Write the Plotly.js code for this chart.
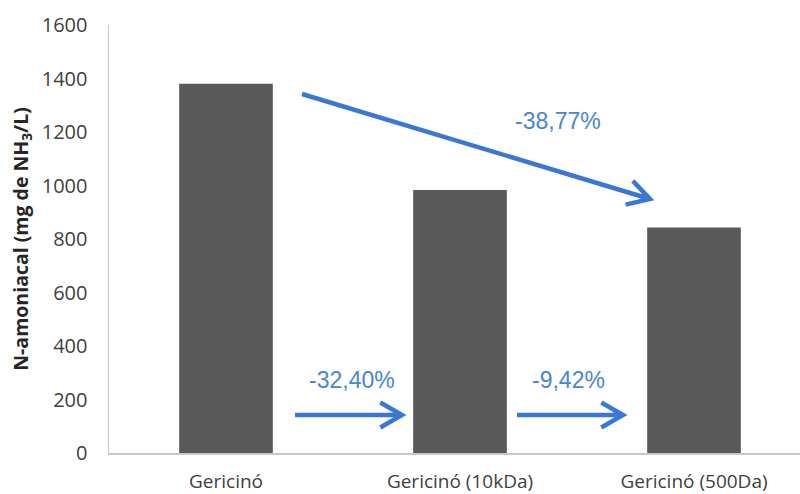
<!DOCTYPE html>
<html>
<head>
<meta charset="utf-8">
<script src="https://cdn.plot.ly/plotly-3.0.1.min.js"></script>
<style>
  html, body { margin: 0; padding: 0; background: #ffffff; }
  #chart { width: 800px; height: 494px; }
</style>
</head>
<body>
<div id="chart"></div>
<script>
// Ammoniacal nitrogen per sample
const categories = ['Gericinó', 'Gericinó (10kDa)', 'Gericinó (500Da)'];
const values = [1380, 983, 843];
const yTicks = [0, 200, 400, 600, 800, 1000, 1200, 1400, 1600];
const changeLabels = ['-32,40%', '-9,42%', '-38,77%'];

const W = 800, H = 494;
const M = { l: 109, r: 0, t: 25, b: 41 };
const PW = W - M.l - M.r, PH = H - M.t - M.b;

// pixel -> paper helpers for the decorative arrows
const px = x => (x - M.l) / PW;
const py = y => (H - M.b - y) / PH;

const BLUE = '#3b78d6';
const TEXT_BLUE = '#4a84d2';

// straight arrow with an open chevron head, as a single SVG path in paper coords
function arrowPath(x0, y0, x1, y1, arm, ang) {
  const a = Math.atan2(y1 - y0, x1 - x0);
  const a1 = a + Math.PI - ang, a2 = a + Math.PI + ang;
  const p1 = [x1 + arm * Math.cos(a1), y1 + arm * Math.sin(a1)];
  const p2 = [x1 + arm * Math.cos(a2), y1 + arm * Math.sin(a2)];
  const f = (x, y) => px(x).toFixed(5) + ',' + py(y).toFixed(5);
  return 'M' + f(x0, y0) + ' L' + f(x1, y1) +
         ' M' + f(p1[0], p1[1]) + ' L' + f(x1, y1) + ' L' + f(p2[0], p2[1]);
}

const arrows = [
  [295, 415, 402, 415],
  [517, 415, 623, 415],
  [302, 94, 650, 199]
];
const labelPos = [[352, 380], [568, 380], [558, 121]];

const shapes = arrows.map(a => ({
  type: 'path', xref: 'paper', yref: 'paper',
  path: arrowPath(a[0], a[1], a[2], a[3], 25, 0.52),
  line: { color: BLUE, width: 4.5 },
  layer: 'above'
}));

const annotations = changeLabels.map((t, i) => ({
  xref: 'paper', yref: 'paper',
  x: px(labelPos[i][0]), y: py(labelPos[i][1]),
  xanchor: 'center', yanchor: 'middle',
  text: t, showarrow: false,
  font: { family: 'Liberation Sans, Arial, sans-serif', size: 23, color: TEXT_BLUE }
}));

const trace = {
  type: 'bar',
  x: categories,
  y: values,
  width: 0.4,
  marker: { color: '#595959' },
  hoverinfo: 'skip'
};

const layout = {
  width: W, height: H,
  margin: M,
  paper_bgcolor: '#ffffff',
  plot_bgcolor: '#ffffff',
  showlegend: false,
  font: { family: 'Open Sans, sans-serif', color: '#404040' },
  xaxis: {
    type: 'category',
    range: [-0.5, -0.5 + PW / 234],
    showgrid: false,
    zeroline: false,
    showline: true,
    linecolor: '#c8c8c8',
    linewidth: 1.5,
    ticks: '',
    ticklabelstandoff: 11,
    tickfont: { family: 'Open Sans, sans-serif', size: 19, color: '#404040' },
    fixedrange: true
  },
  yaxis: {
    range: [0, 1600],
    tickvals: yTicks,
    ticktext: yTicks.map(String),
    showgrid: false,
    zeroline: false,
    showline: true,
    linecolor: '#c8c8c8',
    linewidth: 1.5,
    ticks: '',
    ticklabelstandoff: 16,
    tickfont: { family: 'Open Sans, sans-serif', size: 20, color: '#404040' },
    title: {
      text: 'N-amoniacal (mg de NH<sub>3</sub>/L)',
      font: { family: 'Open Sans, sans-serif', size: 19.5, color: '#262626', weight: 'bold' },
      standoff: 8
    },
    fixedrange: true
  },
  shapes: shapes,
  annotations: annotations
};

Plotly.newPlot('chart', [trace], layout, { displayModeBar: false, staticPlot: true });
</script>
</body>
</html>
